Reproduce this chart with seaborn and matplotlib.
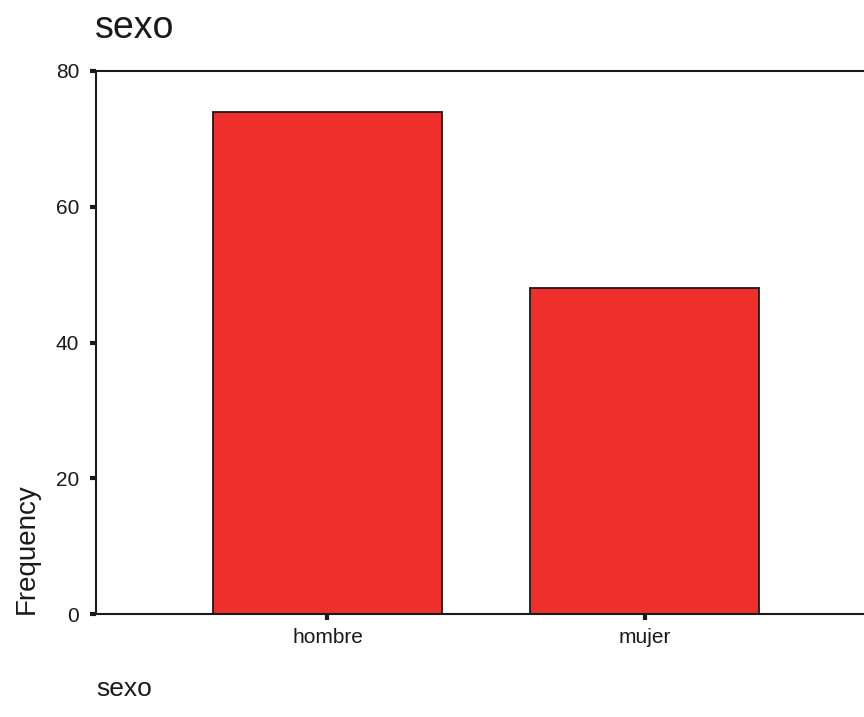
import matplotlib.pyplot as plt
import seaborn as sns
import pandas

categorias = ["hombre", "mujer"]
frecuencias = [74, 48]
yticks = [0, 20, 40, 60, 80]

df = pandas.DataFrame({"sexo": categorias, "Frequency": frecuencias})

sns.set_style("white")
plt.rcParams["font.family"] = ["Liberation Sans", "DejaVu Sans"]

fig = plt.figure(figsize=(8.64, 7.17), dpi=100)
# axes frame runs past the right edge of the picture, like the original export
ax = fig.add_axes([96 / 864, 103 / 717, 780 / 864, 543 / 717])
sns.barplot(data=df, x="sexo", y="Frequency", color="#EE2F2B", edgecolor="#1a1a1a",
            linewidth=1.3, width=0.72, saturation=1, ax=ax)
ax.set_xlim(-0.73, 0.73 + 1)
ax.set_ylim(0, 80)
ax.set_yticks(yticks)
for s in ax.spines.values():
    s.set_linewidth(1.5)
    s.set_color("#1a1a1a")
ax.tick_params(axis="both", direction="out", length=4, width=3, color="#1a1a1a",
               labelsize=15, labelcolor="#1a1a1a", left=True, bottom=True)
ax.tick_params(axis="y", pad=8)
ax.tick_params(axis="x", pad=6)
ax.set_title("sexo", loc="left", fontsize=27, color="#1a1a1a", pad=24, x=-0.002)
ax.set_ylabel("Frequency", fontsize=20, color="#1a1a1a", loc="bottom", labelpad=12)
ax.set_xlabel("sexo", fontsize=19, color="#1a1a1a", loc="left", labelpad=22)
plt.savefig("out.png", dpi=100)
